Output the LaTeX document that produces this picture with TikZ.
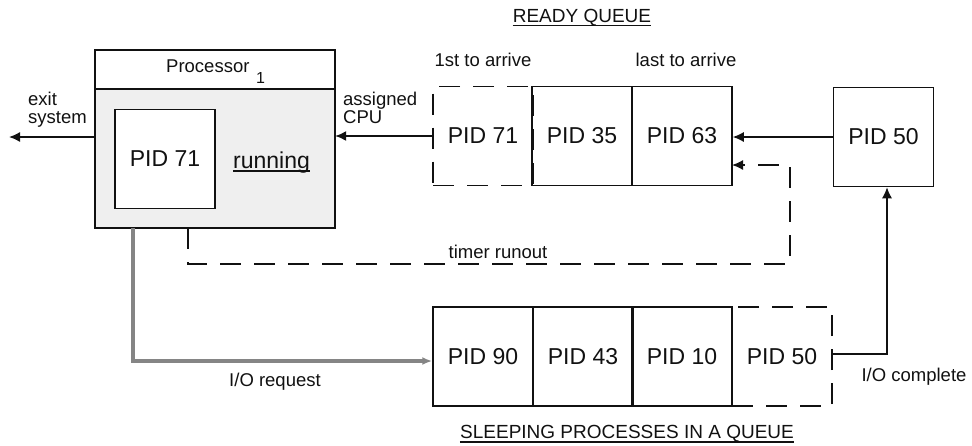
\documentclass[tikz,border=0pt]{standalone}
\usepackage{fontspec}
\setmainfont{Liberation Sans}
\usetikzlibrary{arrows.meta,calc}

\definecolor{inkline}{HTML}{111111}
\definecolor{procgray}{HTML}{EFEFEF}
\definecolor{iogray}{HTML}{858585}

\tikzset{
  line/.style={draw=inkline, line width=1.5pt},
  dashline/.style={draw=inkline, line width=1.5pt, dash pattern=on 21pt off 13pt},
  pidbox/.style={line, rectangle, minimum width=100pt, minimum height=99pt,
    inner sep=0pt, font=\fontsize{23}{26}\selectfont, text=inkline},
  pidghost/.style={pidbox, dashline},
  lbl/.style={inner sep=0pt, font=\fontsize{18.5}{18}\selectfont, text=inkline},
  head/.style={inner sep=0pt, font=\fontsize{19}{20}\selectfont, text=inkline},
  tip/.style={-{Latex[length=11pt,width=10pt]}},
  iotip/.style={-{Latex[length=10pt,width=8pt]}},
}

\begin{document}
\begin{tikzpicture}[x=1pt,y=-1pt]
\useasboundingbox (0,0) rectangle (972,445);

% ---------- processor ----------
\node[minimum width=240pt, minimum height=178pt, inner sep=0pt] (proc) at (215,139) {};
\fill[procgray] ([yshift=-39pt]proc.north west) rectangle (proc.south east);
\draw[line] (proc.north west) rectangle (proc.south east);
\draw[line] ([yshift=-39pt]proc.north west) -- ([yshift=-39pt]proc.north east);
\node[lbl, anchor=base west] (proclbl) at (166,72) {Processor};
\node[lbl, anchor=base west, font=\fontsize{16}{16}\selectfont] (procsub) at (256,83) {1};
\node[pidbox, fill=white] (cur) at (165,159) {PID 71};
\node[inner sep=0pt, anchor=base west, font=\fontsize{23}{26}\selectfont, text=inkline] (run) at (233,168) {running};
\draw[line] ([yshift=-3pt]run.base west) -- ([yshift=-3pt]run.base east);

% exit
\coordinate (exitend) at (9,137);
\draw[line, tip] (proc.west |- exitend) -- (exitend);
\node[lbl, anchor=west, align=left] (exitlbl) at (28,110) {exit\\system};

% ---------- ready queue ----------
\node[head, anchor=base] (rq) at (582,22) {READY QUEUE};
\draw[line] ([yshift=-3.5pt]rq.base west) -- ([yshift=-3.5pt]rq.base east);
\node[lbl] (first) at (483,60) {1st to arrive};
\node[lbl] (last) at (686,60) {last to arrive};

\node[pidghost] (r71) at (483,136) {PID 71};
\node[pidbox] (r35) at (582,136) {PID 35};
\node[pidbox] (r63) at (682,136) {PID 63};
\node[pidbox] (r50) at (883.5,137) {PID 50};

\draw[line, tip] (r50.west) -- (r50.west -| r63.east);
\draw[line, tip] (r71.west) -- (r71.west -| proc.east);
\node[lbl, anchor=west, align=left] (cpulbl) at (343,108) {assigned\\CPU};

% timer runout
\coordinate (trl) at (188,264);
\coordinate (trr) at (790,264);
\coordinate (trin) at (732,165);
\draw[dashline, tip] (proc.south -| trl) -- (trl) -- (trr) -- (trr |- trin) -- (trin);
\node[lbl] (trlbl) at (498,252) {timer runout};

% ---------- sleeping queue ----------
\node[pidghost] (s50) at (782,356.5) {PID 50};
\node[pidbox] (s90) at (483,356.5) {PID 90};
\node[pidbox] (s43) at (583,356.5) {PID 43};
\node[pidbox] (s10) at (682,356.5) {PID 10};
\node[head, anchor=base] (sq) at (627,438) {SLEEPING PROCESSES IN A QUEUE};
\draw[line] ([yshift=-4pt]sq.base west) -- ([yshift=-4pt]sq.base east);

% I/O request
\coordinate (ioc) at (133,361);
\draw[draw=iogray, line width=4pt, iotip] (proc.south -| ioc) -- (ioc) -- (ioc -| s90.west);
\node[lbl] (ioreq) at (275,382) {I/O request};

% I/O complete
\coordinate (iob) at (887,354);
\draw[line, tip] (iob -| s50.east) -- (iob) -- (iob |- r50.south);
\node[lbl] (iodone) at (914,377) {I/O complete};
\end{tikzpicture}
\end{document}
